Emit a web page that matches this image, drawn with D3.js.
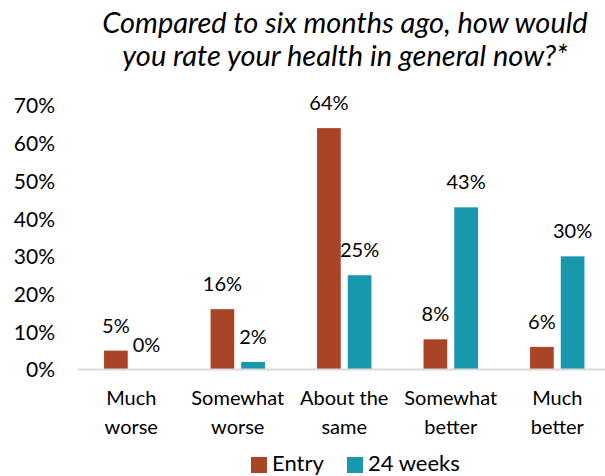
<!DOCTYPE html>
<html>
<head>
<meta charset="utf-8">
<script src="https://cdn.jsdelivr.net/npm/d3@7/dist/d3.min.js"></script>
<style>
  html, body { margin: 0; padding: 0; background: #fff; }
  svg { display: block; font-family: Lato, "Open Sans", sans-serif; }
</style>
</head>
<body>
<svg id="chart" width="605" height="476"></svg>
<script>
// Survey responses: self-rated health change, at entry vs. 24 weeks
const categories = [
  ["Much", "worse"],
  ["Somewhat", "worse"],
  ["About the", "same"],
  ["Somewhat", "better"],
  ["Much", "better"]
];
const seriesNames = ["Entry", "24 weeks"];
const entryValues = [5, 16, 64, 8, 6];
const week24Values = [0, 2, 25, 43, 30];
const yTicks = [0, 10, 20, 30, 40, 50, 60, 70];
const titleLines = [
  "Compared to six months ago, how would",
  "you rate your health in general now?*"
];
const colors = ["#A94426", "#1798AD"];

const svg = d3.select("#chart");
const catKeys = categories.map(c => c.join(" "));

const x0 = d3.scaleBand().domain(catKeys).range([78, 610.5]).paddingInner(0).paddingOuter(0);
const x1 = d3.scaleBand().domain(seriesNames).range([-27.2, 27.2]).paddingInner(0.228).paddingOuter(0);
const y = d3.scaleLinear().domain([0, 70]).range([369.5, 105.5]);

// Title
svg.append("g").selectAll("text").data(titleLines).join("text")
  .attr("x", 345)
  .attr("y", (d, i) => 33 + i * 33)
  .attr("text-anchor", "middle")
  .attr("font-style", "italic")
  .attr("font-size", 29)
  .attr("fill", "#000")
  .text(d => d);

// Y axis labels (no axis line, no ticks)
const yAxis = d3.axisLeft(y).tickValues(yTicks).tickFormat(d => d + "%").tickSize(0).tickPadding(0);
const yg = svg.append("g").attr("transform", "translate(55,0)").call(yAxis);
yg.select(".domain").remove();
yg.selectAll("text").attr("font-size", 21).attr("font-family", "Lato, sans-serif").attr("fill", "#000").attr("dy", "0.35em");

// Bars
const rows = catKeys.map((k, i) => ({ key: k, values: [entryValues[i], week24Values[i]] }));
const groups = svg.append("g").selectAll("g").data(rows).join("g")
  .attr("transform", d => `translate(${x0(d.key) + x0.bandwidth() / 2},0)`);

groups.selectAll("rect").data(d => d.values.map((v, j) => ({ s: seriesNames[j], v, j }))).join("rect")
  .attr("x", d => x1(d.s))
  .attr("width", x1.bandwidth())
  .attr("y", d => y(d.v))
  .attr("height", d => y(0) - y(d.v))
  .attr("fill", d => colors[d.j]);

groups.selectAll("text.val").data(d => d.values.map((v, j) => ({ s: seriesNames[j], v, j }))).join("text")
  .attr("class", "val")
  .attr("x", d => x1(d.s) + x1.bandwidth() / 2)
  .attr("y", d => y(d.v) - 18)
  .attr("text-anchor", "middle")
  .attr("font-size", 20)
  .attr("fill", "#000")
  .text(d => d.v + "%");

// Baseline
svg.append("line")
  .attr("x1", 78).attr("x2", 610.5)
  .attr("y1", y(0)).attr("y2", y(0))
  .attr("stroke", "#d9d9d9").attr("stroke-width", 2);

// Category labels (two lines)
const xl = svg.append("g").selectAll("text").data(categories).join("text")
  .attr("text-anchor", "middle")
  .attr("font-size", 20)
  .attr("fill", "#000")
  .attr("transform", (d, i) => `translate(${x0(catKeys[i]) + x0.bandwidth() / 2},0)`);
xl.selectAll("tspan").data(d => d).join("tspan")
  .attr("x", 0)
  .attr("y", (d, i) => 405 + i * 29)
  .text(d => d);

// Legend
const legendX = [251, 347];
const lg = svg.append("g").selectAll("g").data(seriesNames).join("g")
  .attr("transform", (d, i) => `translate(${legendX[i]},0)`);
lg.append("rect").attr("x", 0).attr("y", 457).attr("width", 16).attr("height", 16)
  .attr("fill", (d, i) => colors[i]);
lg.append("text").attr("x", 21).attr("y", 471).attr("font-size", 22).attr("fill", "#000").text(d => d);
</script>
</body>
</html>
